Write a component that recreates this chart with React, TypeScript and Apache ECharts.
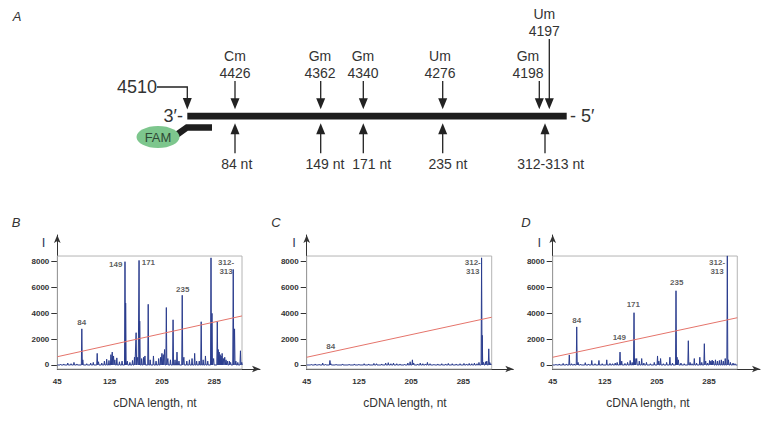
import React, { useEffect, useRef } from "react";
import * as echarts from "echarts";

// ---------- Panel A (scheme) ----------
const siteNames = ["Cm", "Gm", "Gm", "Um", "Gm", "Um"];
const sitePositions = ["4426", "4362", "4340", "4276", "4198", "4197"];
const fragmentLabels = ["84 nt", "149 nt", "171 nt", "235 nt", "312-313 nt"];
const startPosition = "4510";

// ---------- Panels B, C, D (electropherograms) ----------
const xTickLabels = [45, 125, 205, 285];
const yTickLabels = [0, 2000, 4000, 6000, 8000];

// [length (nt), intensity]
const peaksB = [
  [50, 60], [55, 80], [61, 150], [66, 100], [70.5, 200], [75, 80], [82.5, 2800], [84, 400], [90, 100],
  [96, 150], [100, 200], [106, 900], [108, 250], [113, 150], [117, 300], [120.5, 450], [124, 350],
  [127, 800], [129, 1000], [131, 700], [133, 400], [136, 550], [140, 250], [144, 300], [148.5, 8000],
  [149.5, 4800], [152, 300], [156, 200], [160, 350], [163, 600], [165.5, 2500], [168, 600], [170, 8100],
  [171, 3400], [174, 500], [177, 600], [179, 700], [184, 4700], [187, 400], [192, 700], [196, 300],
  [200, 500], [203, 600], [205, 900], [207, 800], [209, 1200], [211.7, 4450], [214, 500], [218, 400],
  [222, 3500], [225, 400], [228, 1000], [231, 300], [236, 5400], [238.5, 600], [243, 300], [247, 400],
  [251, 500], [255, 900], [258, 300], [262, 300], [265, 3350], [268, 400], [271.5, 700], [275, 300],
  [280, 8300], [281.5, 4000], [284, 500], [289.6, 3350], [291, 1200], [292.5, 1000], [294, 800],
  [295.5, 700], [297, 900], [299, 500], [301, 600], [303, 400], [305, 300], [308, 300], [310, 200],
  [314, 7400], [316, 2800], [318, 300], [321, 200], [325, 1100], [327, 200],
];
const peaksC = [
  [52, 50], [58, 80], [64, 60], [69.5, 150], [74, 50], [80.6, 350], [82, 100], [90, 60], [100, 80],
  [110, 60], [118, 80], [125, 60], [133, 100], [140, 80], [148, 120], [152, 100], [160, 80], [166, 150],
  [170, 180], [174, 100], [178, 150], [183, 100], [188, 80], [195, 60], [200, 150], [203.5, 250],
  [207, 400], [209, 150], [215, 80], [219, 150], [223, 100], [227, 80], [230, 200], [234, 100],
  [240, 60], [246, 80], [252, 100], [258, 80], [262, 120], [268, 100], [274, 80], [280, 100], [286, 120],
  [290, 80], [294, 120], [298, 100], [302, 150], [306, 100], [309, 200], [313, 8300], [314, 2300],
  [316, 200], [319, 250], [321, 300], [324, 1250], [325.5, 200], [327, 100],
];
const peaksD = [
  [50, 60], [55, 80], [61, 120], [66, 80], [70.5, 780], [74, 100], [78, 80], [81.9, 2950], [84, 200],
  [88, 60], [95, 180], [100, 80], [105, 350], [110, 100], [116, 350], [121, 100], [128, 400], [133, 120],
  [137, 100], [141, 150], [144, 200], [148.4, 1000], [151, 300], [156, 120], [160, 200], [164, 350],
  [167, 200], [169.9, 4050], [171.5, 500], [174, 500], [178, 300], [181.7, 500], [185, 150], [189, 200],
  [195, 100], [201, 200], [206, 700], [208, 300], [210.7, 500], [215, 100], [220, 200], [225, 600],
  [229, 150], [234.4, 5750], [236, 600], [238, 400], [242, 150], [247, 100], [253.3, 1880], [256, 200],
  [259, 100], [262.5, 500], [266, 150], [271, 600], [274, 200], [277.9, 1650], [280, 300], [283, 150],
  [286, 350], [288, 300], [290, 380], [292, 300], [295, 400], [298, 300], [301, 350], [304, 400],
  [307, 300], [310, 500], [313.2, 8450], [315, 400], [318, 200], [322, 150], [325, 100],
];

// threshold line: intensity at start and at end of the plotted range
const thresholdB = [640, 3800];
const thresholdC = [600, 3700];
const thresholdD = [600, 3660];

// peak annotations: [length, intensity, text]
const labelsB: [number, number, string][] = [
  [82.3, 3300, "84"], [134.3, 7750, "149"], [184.2, 7950, "171"], [236.7, 5880, "235"], [303, 7600, "312-\n313"],
];
const labelsC: [number, number, string][] = [
  [81.8, 1420, "84"], [299.5, 7600, "312-\n313"],
];
const labelsD: [number, number, string][] = [
  [81.9, 3480, "84"], [147.3, 2110, "149"], [168.8, 4720, "171"], [235.5, 6370, "235"], [297.5, 7600, "312-\n313"],
];

const X_MIN = 45;
const Y_MIN = -310;
const Y_MAX = 10068;
const BOX_TOP = 8440;
const PEAK_HALF_WIDTH = 0.75;

function buildTrace(peaks: number[][], end: number) {
  const pts: number[][] = [[X_MIN, 0]];
  peaks.forEach(([x, h]) => {
    pts.push([x - PEAK_HALF_WIDTH, 0], [x, h], [x + PEAK_HALF_WIDTH, 0]);
  });
  pts.push([end, 0]);
  return pts;
}

const AXIS_COLOR = "#333";
const SANS = "'Liberation Sans', Arial, sans-serif";

export default function App() {
  const ref = useRef<HTMLDivElement>(null);

  useEffect(() => {
    if (!ref.current) return;
    const chart = echarts.init(ref.current, undefined, { renderer: "svg" });

    const panels = [
      { left: 57.3, width: 202.7, xMax: 354.9, boxRight: 327.4, peaks: peaksB, thr: thresholdB, labels: labelsB },
      { left: 306.7, width: 206.6, xMax: 361.6, boxRight: 328.5, peaks: peaksC, thr: thresholdC, labels: labelsC },
      { left: 552.7, width: 207.3, xMax: 363.4, boxRight: 328.5, peaks: peaksD, thr: thresholdD, labels: labelsD },
    ];

    const grid = panels.map((p) => ({ left: p.left, top: 235, width: p.width, height: 134 }));
    const xAxis = panels.map((p, i) => ({
      type: "value",
      gridIndex: i,
      min: X_MIN,
      max: p.xMax,
      splitLine: { show: false },
      axisLine: {
        onZero: false,
        lineStyle: { color: AXIS_COLOR, width: 1 },
        symbol: ["none", "arrow"],
        symbolSize: [5, 8],
      },
      axisTick: { show: false },
      axisLabel: {
        customValues: xTickLabels,
        formatter: (v: number) => String(v),
        fontSize: 8,
        fontWeight: "bold",
        color: AXIS_COLOR,
        fontFamily: SANS,
        margin: 8,
      },
    }));
    const yAxis = panels.map((p, i) => ({
      type: "value",
      gridIndex: i,
      min: Y_MIN,
      max: Y_MAX,
      splitLine: { show: false },
      axisLine: {
        show: true,
        onZero: false,
        lineStyle: { color: AXIS_COLOR, width: 1 },
        symbol: ["none", "arrow"],
        symbolSize: [5, 8],
      },
      axisTick: { show: true, customValues: yTickLabels, length: 6, lineStyle: { color: AXIS_COLOR } },
      axisLabel: {
        customValues: yTickLabels,
        formatter: (v: number) => String(v),
        fontSize: 8,
        fontWeight: "bold",
        color: AXIS_COLOR,
        fontFamily: SANS,
        margin: 8,
      },
    }));

    const series: any[] = [];
    panels.forEach((p, i) => {
      series.push({
        type: "line",
        xAxisIndex: i,
        yAxisIndex: i,
        data: buildTrace(p.peaks, p.boxRight),
        showSymbol: false,
        symbol: "none",
        lineStyle: { color: "#2b3d8e", width: 1 },
        areaStyle: { color: "#7f93d6", opacity: 0.4 },
        markArea: {
          silent: true,
          itemStyle: { color: "rgba(0,0,0,0)", borderColor: "#b4b4b4", borderWidth: 1 },
          data: [[{ coord: [X_MIN, Y_MIN] }, { coord: [p.boxRight, BOX_TOP] }]],
        },
        z: 2,
      });
      series.push({
        type: "line",
        xAxisIndex: i,
        yAxisIndex: i,
        data: [
          [X_MIN, p.thr[0]],
          [p.boxRight, p.thr[1]],
        ],
        showSymbol: false,
        symbol: "none",
        lineStyle: { color: "#e5746b", width: 1 },
        z: 3,
      });
      series.push({
        type: "scatter",
        xAxisIndex: i,
        yAxisIndex: i,
        symbolSize: 0,
        data: p.labels.map(([x, y, t]) => ({ value: [x, y], name: t })),
        label: {
          show: true,
          position: "inside",
          formatter: "{b}",
          fontSize: 8,
          fontWeight: "bold",
          color: "#333",
          fontFamily: SANS,
          lineHeight: 9,
        },
        z: 4,
      });
    });

    // ----- Panel A scheme -----
    const txt = (x: number, y: number, text: string, size: number, align = "center", extra: any = {}) => ({
      type: "text",
      x,
      y,
      style: {
        text,
        fill: "#333",
        font: `${extra.italic ? "italic " : ""}${size}px ${SANS}`,
        align,
        verticalAlign: "middle",
        ...(extra.fill ? { fill: extra.fill } : {}),
      },
    });
    const downArrow = (x: number, yTop: number, tip: number) => [
      { type: "line", shape: { x1: x, y1: yTop, x2: x, y2: tip - 10 }, style: { stroke: "#222", lineWidth: 1.3 } },
      { type: "polygon", shape: { points: [[x - 4.5, tip - 11], [x + 4.5, tip - 11], [x, tip]] }, style: { fill: "#222" } },
    ];
    const upArrow = (x: number, yBottom: number, tip: number) => [
      { type: "line", shape: { x1: x, y1: yBottom, x2: x, y2: tip + 10 }, style: { stroke: "#222", lineWidth: 1.3 } },
      { type: "polygon", shape: { points: [[x - 4.5, tip + 11], [x + 4.5, tip + 11], [x, tip]] }, style: { fill: "#222" } },
    ];

    const topArrowX = [235, 320.7, 363.3, 442.7, 539.3, 549.3];
    const topLabelX = [235, 320, 363, 440, 528, 544.3];
    const bottomArrowX = [235, 320.7, 363.3, 442.7, 545];
    const bottomLabelX = [236.7, 325, 371.7, 448, 550.7];

    const graphics: any[] = [];
    graphics.push(txt(17, 16, "A", 13, "center", { italic: true }));
    graphics.push(txt(276, 222, "C", 13, "center", { italic: true }));
    graphics.push(txt(16, 222, "B", 13, "center", { italic: true }));
    graphics.push(txt(526, 222, "D", 13, "center", { italic: true }));

    graphics.push(txt(157, 87, startPosition, 18, "right"));
    graphics.push({
      type: "polyline",
      shape: { points: [[157, 87], [187.3, 87], [187.3, 99]] },
      style: { stroke: "#222", lineWidth: 1.3, fill: null },
    });
    graphics.push({ type: "polygon", shape: { points: [[182.8, 98], [191.8, 98], [187.3, 109.5]] }, style: { fill: "#222" } });
    graphics.push(txt(183, 116, "3\u2032-", 18, "right"));
    graphics.push({ type: "rect", shape: { x: 187.3, y: 112.7, width: 379.4, height: 6.7 }, style: { fill: "#1e1e1e" } });
    graphics.push(txt(570, 116, "- 5\u2032", 18, "left"));
    graphics.push({
      type: "polyline",
      shape: { points: [[168, 141], [187, 127.4], [212, 127.4]] },
      style: { stroke: "#1e1e1e", lineWidth: 6.5, fill: null },
    });
    graphics.push({ type: "ellipse", shape: { cx: 158, cy: 137, rx: 21.5, ry: 11 }, style: { fill: "#7dc68d" } });
    graphics.push(txt(158, 137.5, "FAM", 13, "center", { fill: "#2f4a36" }));

    siteNames.forEach((name, i) => {
      const isTall = i === 5;
      const y1 = isTall ? 14 : 56;
      const y2 = isTall ? 30.7 : 72.5;
      graphics.push(txt(topLabelX[i], y1, name, 14));
      graphics.push(txt(topLabelX[i], y2, sitePositions[i], 14));
      graphics.push(...downArrow(topArrowX[i], isTall ? 39 : 81, 109.3));
    });
    fragmentLabels.forEach((label, i) => {
      graphics.push(...upArrow(bottomArrowX[i], 153.3, 123.3));
      graphics.push(txt(bottomLabelX[i], 163.5, label, 14));
    });

    // panel B/C/D decorations
    const iX = [43.5, 294, 539.3];
    const titleX = [155, 405, 648];
    iX.forEach((x) => graphics.push(txt(x, 242, "I", 13, "center", { fill: "#2f3a5a" })));
    titleX.forEach((x) => graphics.push(txt(x, 403, "cDNA length, nt", 12)));

    chart.setOption({
      animation: false,
      grid,
      xAxis,
      yAxis,
      series,
      graphic: { elements: graphics },
    });

    return () => chart.dispose();
  }, []);

  return (
    <div
      ref={ref}
      style={{ position: "fixed", left: 0, top: 0, width: 773, height: 425, background: "#fff" }}
    />
  );
}
